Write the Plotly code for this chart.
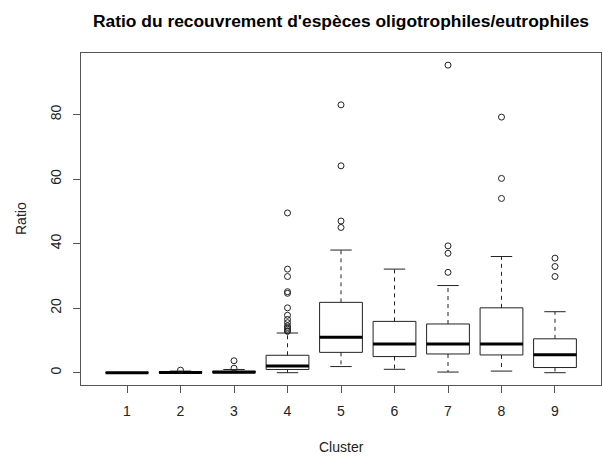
import plotly.graph_objects as go

clusters = [1, 2, 3, 4, 5, 6, 7, 8, 9]
q1 = [0.0, 0.0, 0.05, 1.0, 6.3, 5.0, 5.8, 5.5, 1.6]
medians = [0.0, 0.05, 0.15, 2.1, 11.0, 8.9, 8.9, 8.9, 5.6]
q3 = [0.05, 0.3, 0.5, 5.4, 21.8, 15.9, 15.1, 20.1, 10.5]
whisk_low = [0.0, 0.0, 0.0, 0.0, 1.9, 1.05, 0.2, 0.5, 0.0]
whisk_high = [0.1, 0.5, 1.0, 12.3, 38.0, 32.1, 27.0, 36.0, 18.9]
outliers = {
    1: [],
    2: [0.8],
    3: [1.4, 3.7],
    4: [12.8, 13.0, 13.5, 14.0, 14.5, 15.5, 16.5, 17.8, 20.1, 24.6, 25.1, 29.8, 32.1, 49.5],
    5: [45.0, 47.0, 64.1, 83.0],
    6: [],
    7: [31.1, 37.0, 39.3, 95.3],
    8: [54.0, 60.2, 79.2],
    9: [29.8, 32.9, 35.5],
}
y_ticks = [0, 20, 40, 60, 80]
title = "Ratio du recouvrement d'espèces oligotrophiles/eutrophiles"
x_title = "Cluster"
y_title = "Ratio"

BOX_W = 0.8
CAP_W = 0.4
FONT = "Liberation Sans, Arial, sans-serif"
LBL = 14
TTL = 17.4

fig = go.Figure()

# whiskers (dashed)
wx, wy = [], []
for c, a, b, lo, hi in zip(clusters, q1, q3, whisk_low, whisk_high):
    wx += [c, c, None, c, c, None]
    wy += [b, hi, None, a, lo, None]
fig.add_trace(go.Scatter(x=wx, y=wy, mode="lines",
                         line=dict(color="#222", width=1, dash="4px,4px"),
                         hoverinfo="skip", showlegend=False))

# caps
cx, cy = [], []
for c, lo, hi in zip(clusters, whisk_low, whisk_high):
    cx += [c - CAP_W / 2, c + CAP_W / 2, None, c - CAP_W / 2, c + CAP_W / 2, None]
    cy += [hi, hi, None, lo, lo, None]
fig.add_trace(go.Scatter(x=cx, y=cy, mode="lines",
                         line=dict(color="#222", width=1),
                         hoverinfo="skip", showlegend=False))

# boxes
fig.add_trace(go.Bar(x=clusters, y=[b - a for a, b in zip(q1, q3)], base=q1,
                     width=BOX_W, marker=dict(color="white", line=dict(color="#222", width=1)),
                     hoverinfo="skip", showlegend=False))

# medians
mx, my = [], []
for c, m in zip(clusters, medians):
    mx += [c - BOX_W / 2, c + BOX_W / 2, None]
    my += [m, m, None]
fig.add_trace(go.Scatter(x=mx, y=my, mode="lines",
                         line=dict(color="black", width=3),
                         hoverinfo="skip", showlegend=False))

# outliers
ox, oy = [], []
for c in clusters:
    for v in outliers[c]:
        ox.append(c)
        oy.append(v)
fig.add_trace(go.Scatter(x=ox, y=oy, mode="markers",
                         marker=dict(symbol="circle-open", size=6, color="#222",
                                     line=dict(width=1, color="#222")),
                         hoverinfo="skip", showlegend=False))

plot_w = 603 - 81 - 2
plot_h = 457 - 53 - 72

fig.update_layout(
    width=603, height=457,
    margin=dict(l=81, r=2, t=53, b=72),
    paper_bgcolor="white", plot_bgcolor="white",
    barmode="overlay",
    font=dict(family=FONT, size=LBL, color="#222"),
    xaxis=dict(range=[0.14, 9.86], tickmode="array", tickvals=clusters,
               ticktext=[str(c) for c in clusters],
               showgrid=False, zeroline=False, showline=True, mirror=True,
               linecolor="#555", linewidth=1,
               ticks="outside", ticklen=7, tickcolor="#555",
               ticklabelstandoff=6, tickfont=dict(size=LBL)),
    yaxis=dict(range=[-3.81, 99.06], tickmode="array", tickvals=y_ticks,
               ticktext=[str(t) for t in y_ticks],
               showgrid=False, zeroline=False, showline=True, mirror=True,
               linecolor="#555", linewidth=1,
               ticks="outside", ticklen=7, tickcolor="#555",
               tickangle=-90, ticklabelstandoff=6, tickfont=dict(size=LBL)),
    annotations=[
        dict(text="<b>" + title + "</b>", x=(341 - 81) / plot_w, y=(385 - 21) / plot_h,
             xref="paper", yref="paper", xanchor="center", yanchor="middle",
             showarrow=False, font=dict(size=TTL, color="black")),
        dict(text=x_title, x=0.5, y=-(447 - 385) / plot_h, xref="paper", yref="paper",
             xanchor="center", yanchor="middle",
             showarrow=False, font=dict(size=LBL)),
        dict(text=y_title, x=-(81 - 21) / plot_w, y=0.5, xref="paper", yref="paper",
             xanchor="center", yanchor="middle",
             showarrow=False, textangle=-90, font=dict(size=LBL)),
    ],
)

fig.write_html("out.html")
